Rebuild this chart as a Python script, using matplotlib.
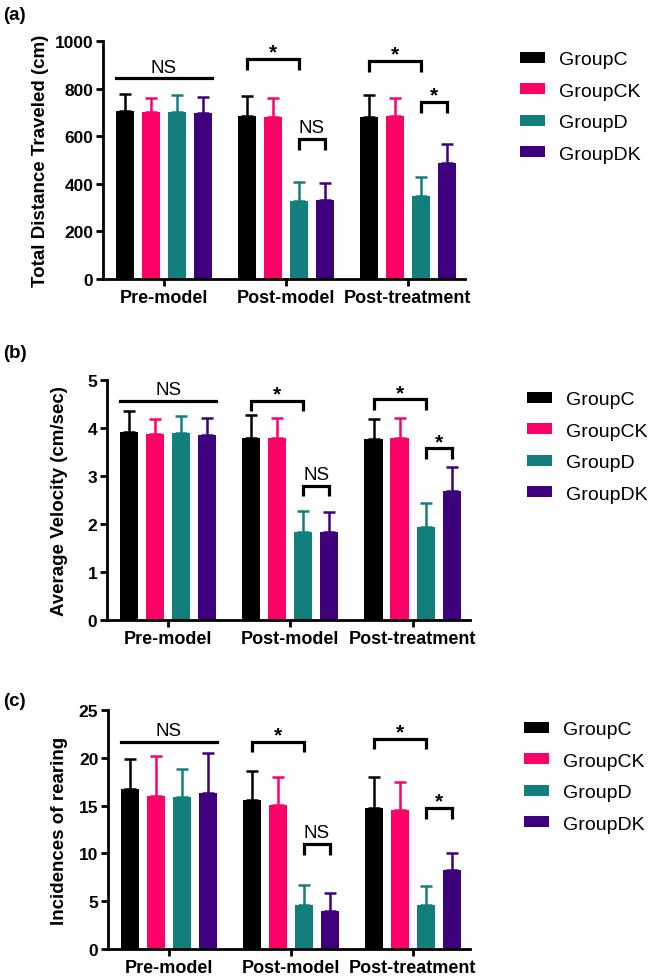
import numpy as np
import matplotlib
matplotlib.use("Agg")
import matplotlib.pyplot as plt

plt.rcParams["font.family"] = ["Liberation Sans", "DejaVu Sans"]

phases = ["Pre-model", "Post-model", "Post-treatment"]
groups = ["GroupC", "GroupCK", "GroupD", "GroupDK"]
colors = ["#000000", "#FF0066", "#127F7C", "#3F007D"]

# (a) total distance traveled, mean and upper SD per group
dist_c = [707, 686, 679]
dist_ck = [700, 682, 684]
dist_d = [703, 329, 350]
dist_dk = [696, 332, 486]
dist_c_sd = [72, 84, 95]
dist_ck_sd = [60, 78, 76]
dist_d_sd = [70, 80, 77]
dist_dk_sd = [69, 73, 82]

# (b) average velocity
vel_c = [3.92, 3.80, 3.77]
vel_ck = [3.875, 3.79, 3.80]
vel_d = [3.90, 1.83, 1.94]
vel_dk = [3.85, 1.84, 2.69]
vel_c_sd = [0.43, 0.47, 0.42]
vel_ck_sd = [0.32, 0.42, 0.41]
vel_d_sd = [0.34, 0.44, 0.49]
vel_dk_sd = [0.35, 0.40, 0.49]

# (c) rearing
rear_c = [16.7, 15.6, 14.7]
rear_ck = [16.0, 15.1, 14.5]
rear_d = [15.9, 4.6, 4.6]
rear_dk = [16.3, 4.0, 8.26]
rear_c_sd = [3.2, 3.0, 3.3]
rear_ck_sd = [4.2, 2.9, 3.0]
rear_d_sd = [2.9, 2.1, 2.0]
rear_dk_sd = [4.2, 1.9, 1.74]

# significance marks: NS line over pre-model, brackets (phase, bar i, bar j, y, label)
ns_a = 843
ns_b = 4.57
ns_c = 21.65
br_a = [(1, 0, 2, 924, "*"), (1, 2, 3, 588, "NS"), (2, 0, 2, 916, "*"), (2, 2, 3, 744, "*")]
br_b = [(1, 0, 2, 4.57, "*"), (1, 2, 3, 2.8, "NS"), (2, 0, 2, 4.6, "*"), (2, 2, 3, 3.58, "*")]
br_c = [(1, 0, 2, 21.7, "*"), (1, 2, 3, 11.0, "NS"), (2, 0, 2, 22.0, "*"), (2, 2, 3, 14.75, "*")]

W, H = 651, 979
step = 0.213
bw = 0.148


def sig_text(ax, x, y, s):
    if s == "*":
        ax.annotate(s, (x, y), xytext=(0, -2), textcoords="offset points",
                    ha="center", va="bottom", fontsize=15, fontweight="bold")
    else:
        ax.annotate(s, (x, y), xytext=(0, 2), textcoords="offset points",
                    ha="center", va="bottom", fontsize=13.5)


def panel(box, tag, tag_y, means, sds, ymax, ystep, ylab, ns_y, brs, leg_xy, lpad):
    l, t, r, b = box
    ax = fig.add_axes([l / W, 1 - b / H, (r - l) / W, (b - t) / H])
    x = np.arange(len(phases))
    for i in range(4):
        xi = x + (i - 1.5) * step
        ax.bar(xi, means[i], bw, color=colors[i], label=groups[i], zorder=2)
        ax.errorbar(xi, means[i], yerr=[np.zeros(3), sds[i]], fmt="none",
                    ecolor=colors[i], elinewidth=1.8, capsize=4, capthick=1.8, zorder=1)
    drop = 0.045 * ymax
    # pre-model NS line
    x0 = -1.5 * step - bw / 2
    x1 = 1.5 * step + bw / 2
    ax.plot([x0, x1], [ns_y, ns_y], color="black", lw=2.3, clip_on=False)
    sig_text(ax, 0, ns_y, "NS")
    for g, i, j, y, s in brs:
        xa = g + (i - 1.5) * step
        xb = g + (j - 1.5) * step
        ax.plot([xa, xa, xb, xb], [y - drop, y, y, y - drop], color="black",
                lw=2.3, clip_on=False, solid_capstyle="butt", solid_joinstyle="miter")
        sig_text(ax, (xa + xb) / 2, y, s)

    ax.set_xlim(-0.5, 2.47)
    ax.set_ylim(0, ymax)
    ax.set_yticks(np.arange(0, ymax + ystep / 2, ystep))
    ax.set_xticks(x)
    ax.set_xticklabels(phases, fontsize=13, fontweight="bold")
    for lb in ax.get_yticklabels():
        lb.set_fontweight("bold")
        lb.set_fontsize(12.5)
    ax.set_ylabel(ylab, fontsize=13.5, fontweight="bold", labelpad=lpad)
    for s in ["top", "right"]:
        ax.spines[s].set_visible(False)
    for s in ["left", "bottom"]:
        ax.spines[s].set_linewidth(2)
    ax.tick_params(axis="both", width=2, length=5, pad=2)
    ax.legend(loc="upper left", bbox_to_anchor=(leg_xy[0] / W, 1 - leg_xy[1] / H),
              bbox_transform=fig.transFigure, frameon=False, fontsize=14,
              handlelength=1.3, handleheight=0.5, handletextpad=0.7,
              labelspacing=0.75, borderpad=0, borderaxespad=0)
    fig.text(3 / W, 1 - tag_y / H, tag, fontsize=13.5, fontweight="bold",
             ha="left", va="center")
    return ax


fig = plt.figure(figsize=(W / 100, H / 100), dpi=100)

panel((103, 42, 465, 280), "(a)", 15,
      [dist_c, dist_ck, dist_d, dist_dk], [dist_c_sd, dist_ck_sd, dist_d_sd, dist_dk_sd],
      1000, 200, "Total Distance Traveled (cm)", ns_a, br_a, (520, 52), 4)
panel((107, 381, 470, 621), "(b)", 353,
      [vel_c, vel_ck, vel_d, vel_dk], [vel_c_sd, vel_ck_sd, vel_d_sd, vel_dk_sd],
      5, 1, "Average Velocity (cm/sec)", ns_b, br_b, (527, 392), 14)
panel((108, 711, 470, 950), "(c)", 702,
      [rear_c, rear_ck, rear_d, rear_dk], [rear_c_sd, rear_ck_sd, rear_d_sd, rear_dk_sd],
      25, 5, "Incidences of rearing", ns_c, br_c, (524, 722), 8)

fig.savefig("out.png", dpi=100)
